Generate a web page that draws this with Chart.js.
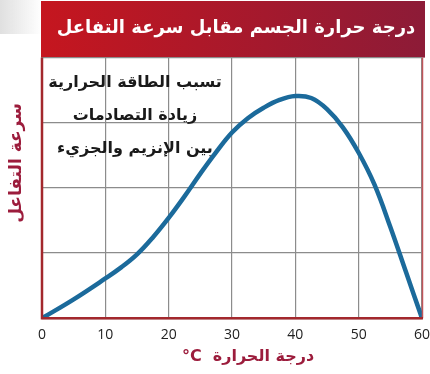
<!DOCTYPE html>
<html>
<head>
<meta charset="utf-8">
<script src="https://cdn.jsdelivr.net/npm/chart.js@4"></script>
<style>
  html, body { margin: 0; padding: 0; background: #fff; }
  #wrap { width: 430px; height: 374px; }
</style>
</head>
<body>
<div id="wrap"><canvas id="rateChart"></canvas></div>
<script>
// Data
const temps = [0, 5, 10, 12.5, 15, 17.5, 20, 22.5, 25, 27.5, 30, 32.5, 35, 37.5, 40, 42.5, 45, 47.5, 50, 52.5, 55, 57.5, 60];
const rates = [0, 0.29, 0.61, 0.78, 0.98, 1.24, 1.54, 1.87, 2.22, 2.55, 2.85, 3.07, 3.23, 3.35, 3.41, 3.38, 3.21, 2.93, 2.54, 2.05, 1.4, 0.7, 0];
const xTicks = [0, 10, 20, 30, 40, 50, 60];

const titleText = 'درجة حرارة الجسم مقابل سرعة التفاعل';
const xTitle = '°C  درجة الحرارة';
const yTitle = 'سرعة التفاعل';
const noteLines = ['تسبب الطاقة الحرارية', 'زيادة التصادمات', 'بين الإنزيم والجزيء'];

const crimson = '#9c1c3c';

// Red banner behind the title
const bannerPlugin = {
    id: 'banner',
    beforeDraw(chart) {
        const ctx = chart.ctx;
        const a = chart.chartArea;
        ctx.save();
        const shade = ctx.createLinearGradient(0, 0, a.left, 0);
        shade.addColorStop(0, 'rgba(220,220,220,0.9)');
        shade.addColorStop(1, 'rgba(220,220,220,0)');
        ctx.fillStyle = shade;
        ctx.fillRect(0, 0, a.left, 34);
        const g = ctx.createLinearGradient(a.left, 0, a.right, 0);
        g.addColorStop(0, '#c5161f');
        g.addColorStop(1, '#8d1b37');
        ctx.fillStyle = g;
        ctx.fillRect(a.left - 1, 1, a.right - a.left + 4, a.top - 1);
        ctx.restore();
    }
};

// Axis titles, note text and frame
const decorPlugin = {
    id: 'decor',
    afterDraw(chart) {
        const ctx = chart.ctx;
        const a = chart.chartArea;
        ctx.save();
        // frame
        ctx.strokeStyle = '#c0555a';
        ctx.lineWidth = 1.5;
        ctx.beginPath();
        ctx.moveTo(a.right + 0.5, a.top);
        ctx.lineTo(a.right + 0.5, a.bottom);
        ctx.stroke();
        ctx.strokeStyle = '#a3282d';
        ctx.lineWidth = 2.5;
        ctx.beginPath();
        ctx.moveTo(a.left, a.top);
        ctx.lineTo(a.left, a.bottom);
        ctx.lineTo(a.right + 1, a.bottom);
        ctx.stroke();

        // note
        ctx.fillStyle = '#1a1a1a';
        ctx.font = 'bold 16px "DejaVu Sans"';
        ctx.textAlign = 'center';
        ctx.textBaseline = 'middle';
        const nx = a.left + 93;
        noteLines.forEach((t, i) => ctx.fillText(t, nx, a.top + 25 + i * 33));

        // x title
        ctx.fillStyle = crimson;
        ctx.font = 'bold 16px "DejaVu Sans"';
        ctx.fillText(xTitle, 248, 357);

        // y title
        ctx.translate(17, 163);
        ctx.rotate(-Math.PI / 2);
        ctx.font = 'bold 17px "DejaVu Sans"';
        ctx.fillText(yTitle, 0, 0);
        ctx.restore();
    }
};

const ctx = document.getElementById('rateChart').getContext('2d');
new Chart(ctx, {
    type: 'line',
    data: {
        datasets: [{
            data: temps.map((t, i) => ({ x: t, y: rates[i] })),
            borderColor: '#1b6a9b',
            borderWidth: 4.5,
            pointRadius: 0,
            tension: 0.4,
            fill: false
        }]
    },
    options: {
        responsive: true,
        maintainAspectRatio: false,
        animation: false,
        layout: { padding: { left: 42, right: 0, top: 0, bottom: 31 } },
        plugins: {
            legend: { display: false },
            tooltip: { enabled: false },
            title: {
                display: true,
                text: titleText,
                color: '#ffffff',
                font: { family: 'DejaVu Sans', size: 18, weight: 'bold' },
                padding: { top: 18, bottom: 18 }
            }
        },
        scales: {
            x: {
                type: 'linear',
                min: 0,
                max: 60,
                afterBuildTicks: axis => { axis.ticks = xTicks.map(v => ({ value: v })); },
                grid: { color: '#8c8c8c', lineWidth: 1.2, drawTicks: true, tickLength: 8, tickColor: 'rgba(0,0,0,0)' },
                border: { display: false },
                ticks: {
                    color: '#222',
                    padding: 0,
                    font: { family: 'Open Sans', size: 14 }
                }
            },
            y: {
                min: 0,
                max: 4,
                ticks: { stepSize: 1, display: false },
                grid: { color: '#8c8c8c', lineWidth: 1.2, drawTicks: false },
                border: { display: false }
            }
        }
    },
    plugins: [bannerPlugin, decorPlugin]
});
</script>
</body>
</html>
